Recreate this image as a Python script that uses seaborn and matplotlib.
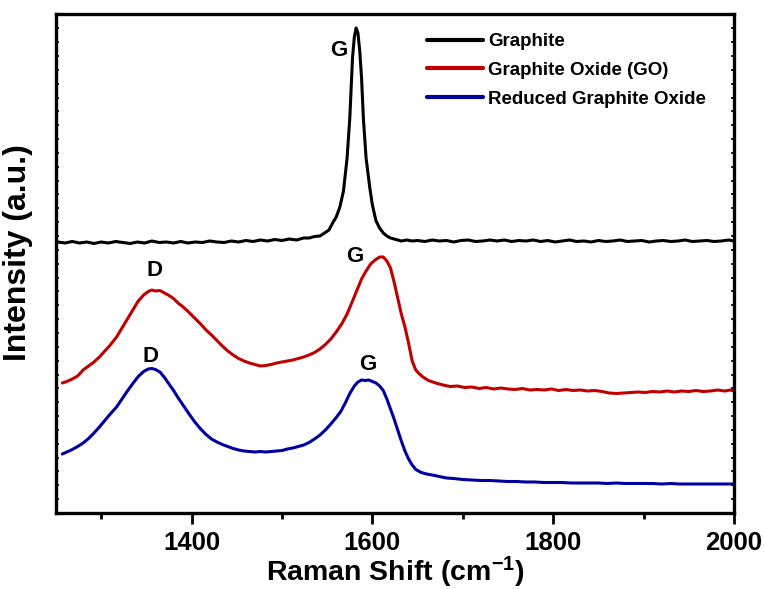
import matplotlib
matplotlib.use("Agg")
import matplotlib.pyplot as plt
from matplotlib.ticker import MultipleLocator
import seaborn as sns
import pandas as pd

# ---------------- data (arbitrary intensity units) ----------------
graphite_x = [1252, 1260, 1268, 1276, 1284, 1292, 1300, 1308, 1316, 1324, 1332, 1340, 1348, 1356,
              1364, 1372, 1380, 1388, 1396, 1404, 1412, 1420, 1428, 1436, 1444, 1452, 1460, 1468,
              1476, 1484, 1492, 1500, 1508, 1516, 1524, 1530, 1536, 1542, 1547, 1552, 1556, 1560,
              1564, 1568, 1572, 1575, 1578, 1580, 1582, 1584, 1586, 1588, 1590, 1593, 1597, 1600,
              1604, 1608, 1612, 1616, 1620, 1626, 1632, 1638, 1644, 1650, 1658, 1666, 1674, 1682,
              1690, 1698, 1706, 1714, 1722, 1730, 1738, 1746, 1754, 1762, 1770, 1778, 1786, 1794,
              1802, 1810, 1818, 1826, 1834, 1842, 1850, 1858, 1866, 1874, 1882, 1890, 1898, 1906,
              1914, 1922, 1930, 1938, 1946, 1954, 1962, 1970, 1978, 1986, 1994, 2000]
graphite_y = [271, 270, 271.5, 270, 271, 269.5, 271, 270, 271.5, 270.5, 269.5, 271, 270, 272,
              270.5, 271, 270, 271.5, 270, 271, 270.5, 272, 271, 270.5, 272, 271, 272.5, 271.5,
              273, 272, 273.5, 272.5, 274, 273, 275, 275, 276.5, 277, 280, 283, 290, 296,
              306, 322, 355, 395, 455, 476, 485, 480, 462, 435, 395, 355, 326, 308,
              292, 285, 280, 277, 275, 273.5, 272, 273, 272, 272.5, 271.5, 273, 272, 272.5,
              271, 272.5, 273, 271.5, 272, 273, 272, 273, 271.5, 272.5, 272, 273, 271.5, 272.5,
              271, 272, 273, 271.5, 272, 271, 272.5, 271.5, 272, 273, 271.5, 272, 272.5, 271,
              272, 272.5, 271.5, 272, 273, 271.5, 272, 272.5, 271.5, 272, 273, 272]

go_x = [1257, 1262, 1268, 1274, 1280, 1286, 1292, 1298, 1304, 1310, 1317, 1323, 1329, 1335, 1341,
        1347, 1352, 1356, 1360, 1365, 1370, 1375, 1380, 1385, 1390, 1395, 1400, 1405, 1410, 1416,
        1422, 1428, 1434, 1440, 1446, 1452, 1458, 1464, 1470, 1476, 1482, 1488, 1494, 1500, 1506,
        1512, 1518, 1524, 1530, 1536, 1542, 1548, 1554, 1560, 1566, 1572, 1578, 1583, 1588, 1593,
        1598, 1603, 1608, 1612, 1616, 1620, 1624, 1628, 1632, 1636, 1640, 1644, 1648, 1652, 1656,
        1662, 1670, 1678, 1686, 1694, 1702, 1710, 1718, 1726, 1734, 1742, 1750, 1758, 1766, 1774,
        1782, 1790, 1798, 1806, 1814, 1822, 1830, 1838, 1846, 1854, 1862, 1870, 1878, 1886, 1894,
        1902, 1910, 1918, 1926, 1934, 1942, 1950, 1958, 1966, 1974, 1982, 1990, 1996, 2000]
go_y = [130, 131.5, 134, 137, 143, 147, 151, 156, 162, 168, 176, 185, 194, 203, 212,
        218, 221.5, 223, 222, 222.5, 220, 217.5, 214.5, 210, 206.5, 202.5, 198, 193.5, 189, 183,
        178, 172.5, 167, 162, 158, 154.5, 152, 150, 148.5, 147, 147.5, 148.5, 150, 151, 152,
        153, 154.5, 156, 158, 160.5, 164, 168.5, 174, 181, 189, 199, 212, 223, 234, 242,
        249, 253, 256, 256, 252, 245, 231, 215, 199, 186, 170, 152, 143, 139, 136,
        132.5, 130, 128, 126.5, 127, 125.5, 126, 124.5, 125.5, 124, 125, 124, 123.5, 124.5, 123,
        123.5, 123, 124, 122.5, 123.5, 122.5, 123, 122, 122.5, 121.5, 120, 119.5, 120, 120.5, 121,
        120.5, 121.5, 121, 122, 121, 122, 121.5, 122.5, 121.5, 122, 123, 122, 123, 122]

rgo_x = [1257, 1262, 1268, 1274, 1280, 1286, 1292, 1298, 1304, 1310, 1317, 1323, 1329, 1335, 1341,
         1347, 1352, 1356, 1360, 1365, 1370, 1375, 1380, 1386, 1392, 1398, 1404, 1410, 1416, 1422,
         1428, 1434, 1440, 1446, 1452, 1458, 1464, 1470, 1476, 1482, 1488, 1494, 1500, 1506, 1512,
         1518, 1524, 1530, 1536, 1542, 1548, 1554, 1560, 1565, 1570, 1575, 1580, 1584, 1588, 1592,
         1596, 1600, 1604, 1608, 1612, 1616, 1620, 1624, 1628, 1632, 1636, 1640, 1644, 1648, 1654,
         1660, 1666, 1674, 1682, 1690, 1700, 1710, 1720, 1730, 1740, 1750, 1760, 1770, 1780, 1790,
         1800, 1810, 1820, 1830, 1840, 1850, 1860, 1870, 1880, 1890, 1900, 1910, 1920, 1930, 1940,
         1950, 1960, 1970, 1980, 1990, 2000]
rgo_y = [59, 61, 63.5, 66.5, 70, 74.5, 80, 86, 92.5, 99, 106, 114, 122, 129.5, 136.5,
         141.5, 144, 144.5, 143.5, 141, 135.5, 129, 122.5, 114, 106, 98, 90.5, 84, 78.5, 74,
         71, 68.5, 66.5, 64.5, 63, 62, 61.5, 61, 61.5, 61, 61.5, 62, 62.5, 64, 65,
         66.5, 68, 70.5, 74, 78, 83, 89, 95.5, 101.5, 110, 119.5, 127, 131, 133, 132.5,
         133, 131.5, 130, 127, 122.5, 114, 104, 94, 83, 72, 62, 54, 48, 43.5, 40.5,
         39, 38, 36.5, 35, 34.5, 33.5, 33, 32.5, 32.5, 32, 31.5, 31.5, 31, 31, 30.5,
         30.5, 30.5, 30, 30, 30, 30, 29.5, 30, 29.5, 29.5, 29.5, 29.5, 29, 29.5, 29,
         29, 29, 29, 29, 29, 29]

series_names = ["Graphite", "Graphite Oxide (GO)", "Reduced Graphite Oxide"]
series_colors = ["#000000", "#C00000", "#0000A0"]

# peak labels: (text, x, y)
peak_labels = [("G", 1563, 462), ("D", 1359, 243), ("G", 1580, 256), ("D", 1355, 157), ("G", 1595, 148)]

# ---------------- build long-form table ----------------
frames = []
for name, xs, ys in zip(series_names, [graphite_x, go_x, rgo_x], [graphite_y, go_y, rgo_y]):
    frames.append(pd.DataFrame({"Raman Shift": xs, "Intensity": ys, "Sample": name}))
df = pd.concat(frames, ignore_index=True)

sns.set_style("ticks")
plt.rcParams["font.family"] = ["Liberation Sans", "DejaVu Sans"]
plt.rcParams["font.weight"] = "bold"
plt.rcParams["mathtext.fontset"] = "custom"
plt.rcParams["mathtext.rm"] = "Liberation Sans:bold"
plt.rcParams["mathtext.bf"] = "Liberation Sans:bold"
plt.rcParams["mathtext.default"] = "bf"
for key in ["text.color", "axes.labelcolor", "xtick.color", "ytick.color", "axes.edgecolor"]:
    plt.rcParams[key] = "black"

fig = plt.figure(figsize=(7.64, 5.89), dpi=100)
ax = fig.add_axes([56 / 764, 76 / 589, 678 / 764, 499 / 589])

sns.lineplot(data=df, x="Raman Shift", y="Intensity", hue="Sample", hue_order=series_names,
             palette=dict(zip(series_names, series_colors)), sort=False, estimator=None,
             linewidth=2.2, ax=ax)

ax.set_xlim(1250, 2000)
ax.set_ylim(0, 499)
ax.xaxis.set_major_locator(MultipleLocator(200))
ax.xaxis.set_minor_locator(MultipleLocator(100))
ax.yaxis.set_major_locator(MultipleLocator(13.85))
ax.set_yticklabels([])
ax.tick_params(axis="x", which="major", direction="out", length=8, width=2.0, labelsize=18.5,
               top=False, pad=5)
ax.tick_params(axis="x", which="minor", direction="out", length=4.5, width=2.0, top=False)
ax.tick_params(axis="y", which="major", direction="in", length=2.5, width=1.2, left=True, right=True)
for lab in ax.get_xticklabels():
    lab.set_fontweight("bold")
for s in ax.spines.values():
    s.set_linewidth(2.4)
    s.set_visible(True)

ax.set_xlabel(r"Raman Shift (cm$^{-1}$)", fontsize=20.5, fontweight="bold", labelpad=0)
ax.set_ylabel("Intensity (a.u.)", fontsize=23, fontweight="bold")
ax.yaxis.set_label_coords(-0.034, 0.521)

for txt, xv, yv in peak_labels:
    ax.text(xv, yv, txt, fontsize=16, fontweight="bold", ha="center", va="center")

leg = ax.legend(loc="upper left", bbox_to_anchor=(0.547, 0.962), frameon=False, fontsize=13.5,
                handlelength=3.0, handletextpad=0.27, labelspacing=0.63, borderaxespad=0,
                borderpad=0)
for t in leg.get_texts():
    t.set_fontweight("bold")
for line in leg.get_lines():
    line.set_linewidth(3.0)

fig.savefig("out.png", dpi=100)
